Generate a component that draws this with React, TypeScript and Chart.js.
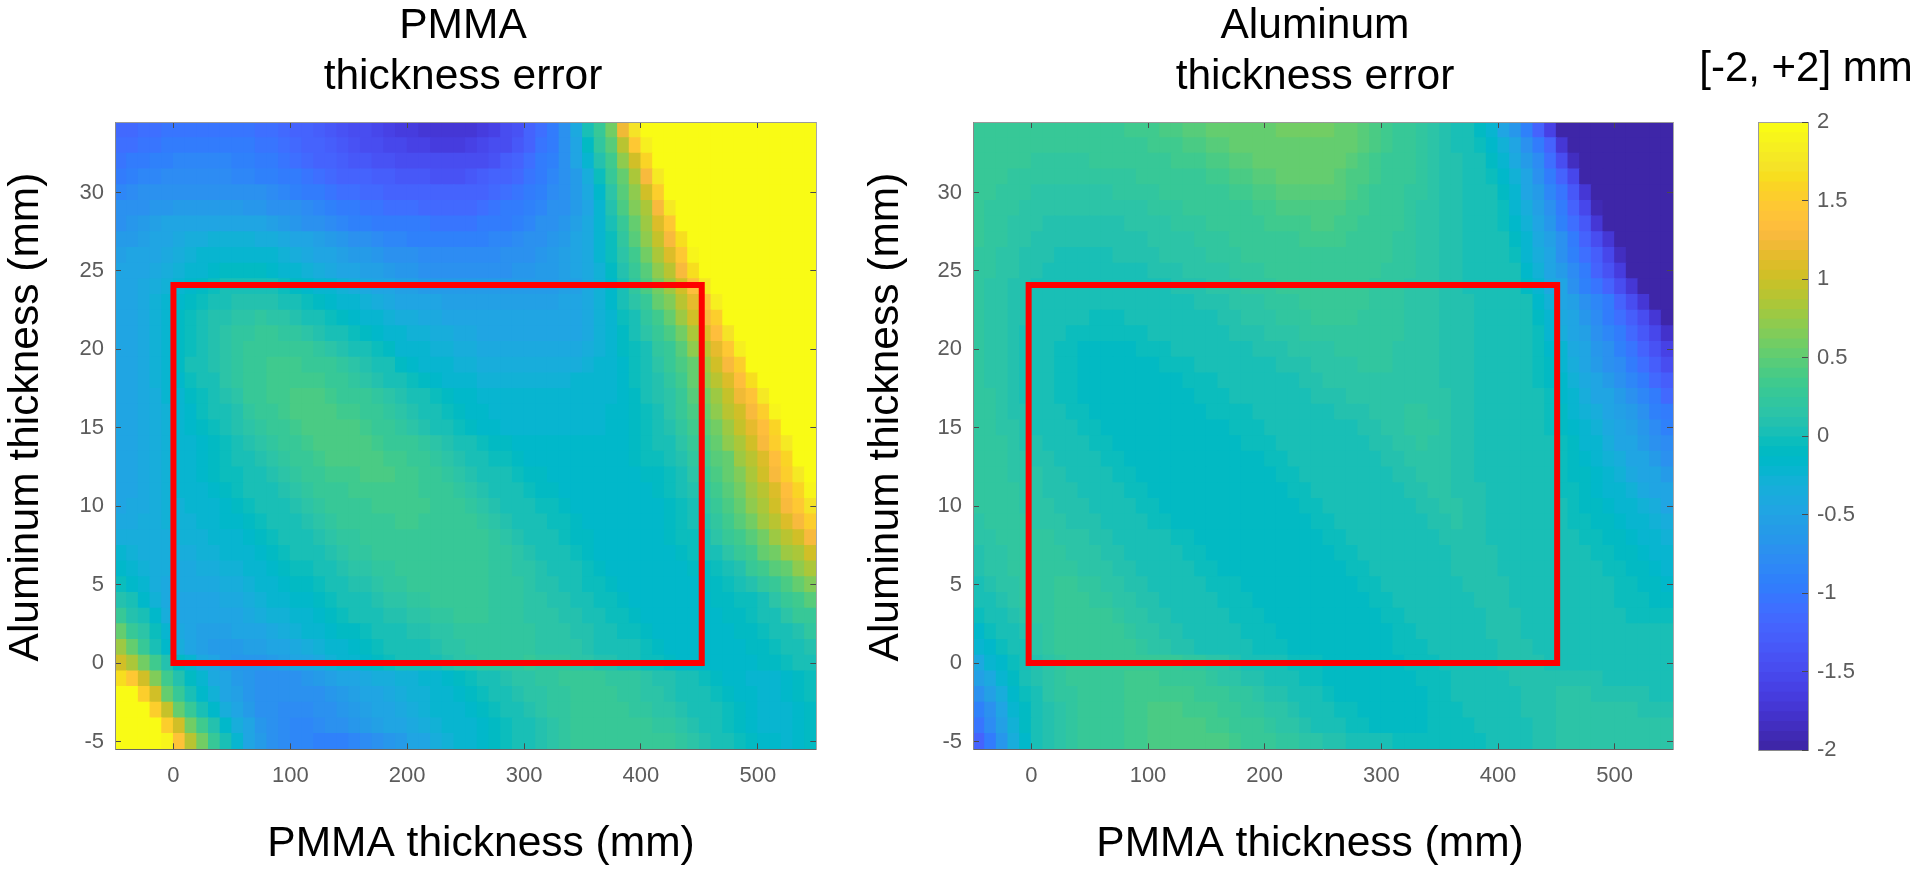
import React, { useEffect, useRef } from "react";
import Chart from "chart.js/auto";

const FONT = '"Liberation Sans", Arial, sans-serif';

const xTickValues = [0, 100, 200, 300, 400, 500];
const yTickValues = [-5, 0, 5, 10, 15, 20, 25, 30];
const colorbarTicks = [-2, -1.5, -1, -0.5, 0, 0.5, 1, 1.5, 2];

const xCenters = [
  -45,-35,-25,-15,-5,5,15,25,35,45,
  55,65,75,85,95,105,115,125,135,145,
  155,165,175,185,195,205,215,225,235,245,
  255,265,275,285,295,305,315,325,335,345,
  355,365,375,385,395,405,415,425,435,445,
  455,465,475,485,495,505,515,525,535,545,
];
const yCenters = [34,33,32,31,30,29,28,27,26,25,24,23,22,21,20,19,18,17,16,15,14,13,12,11,10,9,8,7,6,5,4,3,2,1,0,-1,-2,-3,-4,-5];

// Thickness error per cell, in hundredths of a millimetre. One row per yCenters entry, one column per xCenters entry.
const pmmaErrorCmm = [
  [-115,-115,-110,-110,-105,-105,-105,-105,-105,-105,-105,-105,-110,-110,-115,-120,-125,-130,-135,-140,-145,-150,-155,-160,-165,-165,-170,-170,-175,-175,-170,-165,-160,-150,-140,-125,-110,-95,-75,-40,5,30,60,120,170,200,200,200,200,200,200,200,200,200,200,200,200,200,200,200],
  [-110,-110,-105,-105,-100,-100,-100,-95,-95,-95,-100,-100,-105,-105,-110,-115,-120,-125,-130,-135,-140,-145,-150,-155,-155,-160,-160,-165,-165,-165,-160,-155,-150,-145,-135,-120,-105,-95,-75,-45,-10,20,45,90,145,185,200,200,200,200,200,200,200,200,200,200,200,200,200,200],
  [-105,-100,-95,-90,-90,-85,-85,-85,-85,-85,-90,-90,-95,-100,-105,-110,-115,-120,-125,-130,-135,-135,-140,-140,-145,-145,-150,-150,-150,-150,-145,-145,-140,-130,-120,-110,-100,-90,-75,-50,-20,10,35,70,105,160,200,200,200,200,200,200,200,200,200,200,200,200,200,200],
  [-95,-90,-85,-85,-80,-80,-80,-80,-80,-80,-85,-85,-90,-90,-95,-100,-105,-110,-115,-120,-120,-125,-130,-130,-135,-135,-135,-140,-140,-140,-135,-130,-125,-120,-115,-105,-95,-85,-75,-60,-35,-5,25,55,85,130,180,200,200,200,200,200,200,200,200,200,200,200,200,200],
  [-85,-80,-75,-75,-70,-70,-70,-70,-70,-70,-70,-75,-75,-80,-85,-90,-95,-100,-105,-110,-110,-115,-115,-120,-120,-125,-125,-125,-125,-125,-125,-120,-115,-110,-105,-100,-90,-80,-70,-60,-40,-15,15,45,70,100,150,200,200,200,200,200,200,200,200,200,200,200,200,200],
  [-75,-70,-70,-65,-65,-60,-60,-60,-60,-60,-60,-65,-65,-70,-70,-75,-80,-85,-90,-95,-100,-105,-105,-110,-110,-110,-115,-115,-115,-115,-115,-110,-105,-100,-95,-90,-85,-75,-70,-60,-45,-25,10,40,65,85,130,175,200,200,200,200,200,200,200,200,200,200,200,200],
  [-70,-65,-60,-55,-50,-50,-50,-45,-45,-45,-45,-50,-50,-55,-60,-65,-70,-75,-80,-85,-90,-90,-95,-95,-100,-100,-100,-105,-105,-105,-105,-100,-95,-95,-90,-85,-75,-70,-65,-55,-40,-20,0,25,55,80,110,145,195,200,200,200,200,200,200,200,200,200,200,200],
  [-60,-60,-55,-50,-45,-40,-35,-35,-30,-30,-30,-30,-35,-35,-40,-45,-50,-55,-60,-65,-70,-75,-80,-85,-85,-90,-90,-90,-90,-90,-90,-90,-85,-85,-80,-75,-70,-65,-60,-50,-40,-25,-5,20,45,70,95,130,165,200,200,200,200,200,200,200,200,200,200,200],
  [-55,-50,-50,-45,-40,-35,-30,-25,-20,-20,-20,-20,-25,-25,-30,-35,-40,-45,-50,-55,-60,-60,-65,-70,-75,-75,-80,-80,-80,-80,-80,-80,-80,-75,-75,-70,-65,-60,-55,-50,-40,-25,-5,15,35,60,85,110,145,190,200,200,200,200,200,200,200,200,200,200],
  [-50,-45,-45,-40,-35,-30,-25,-20,-15,-10,-10,-10,-10,-15,-20,-25,-30,-35,-40,-45,-50,-55,-55,-60,-65,-65,-70,-70,-70,-70,-70,-70,-70,-70,-65,-65,-60,-60,-55,-50,-40,-30,-10,10,25,45,70,90,125,165,200,200,200,200,200,200,200,200,200,200],
  [-50,-45,-40,-35,-30,-25,-15,-10,-5,0,0,5,0,0,-5,-10,-15,-20,-25,-30,-35,-40,-45,-50,-55,-55,-60,-60,-60,-60,-60,-60,-60,-60,-60,-60,-60,-60,-55,-55,-40,-30,-15,5,20,40,60,80,100,135,175,200,200,200,200,200,200,200,200,200],
  [-50,-45,-40,-30,-25,-15,-10,-5,5,5,10,10,10,10,5,0,-5,-10,-15,-20,-25,-30,-35,-40,-45,-45,-50,-50,-55,-55,-55,-55,-55,-55,-55,-55,-55,-55,-50,-50,-40,-30,-15,0,15,30,50,65,90,115,140,185,200,200,200,200,200,200,200,200],
  [-50,-45,-40,-30,-20,-10,-5,5,10,10,15,15,20,15,15,10,5,0,-5,-10,-15,-20,-25,-30,-35,-35,-40,-40,-45,-45,-50,-50,-50,-50,-50,-50,-50,-50,-50,-50,-40,-30,-20,-5,5,20,35,50,75,100,125,150,200,200,200,200,200,200,200,200],
  [-50,-45,-40,-30,-20,-10,-5,5,10,15,20,20,25,25,20,20,15,10,5,0,-5,-10,-15,-20,-25,-30,-30,-35,-35,-40,-40,-45,-45,-45,-45,-45,-45,-45,-45,-45,-40,-30,-20,-10,0,15,25,40,60,85,110,135,170,200,200,200,200,200,200,200],
  [-50,-45,-40,-30,-20,-10,-5,5,10,15,20,25,30,30,30,25,25,20,15,10,5,0,-5,-10,-20,-25,-25,-30,-30,-35,-35,-40,-40,-40,-40,-40,-40,-40,-40,-40,-35,-30,-20,-10,-5,5,20,30,45,70,90,115,145,185,200,200,200,200,200,200],
  [-50,-45,-40,-30,-20,-10,0,5,10,15,20,25,30,35,35,35,30,30,25,20,15,10,5,0,-10,-15,-20,-25,-25,-30,-30,-35,-35,-35,-35,-35,-35,-35,-35,-35,-30,-25,-20,-15,-5,5,15,25,40,55,80,100,125,150,200,200,200,200,200,200],
  [-50,-45,-40,-30,-25,-15,-5,0,5,15,20,25,30,35,35,35,35,35,30,25,20,15,10,5,0,-5,-10,-15,-20,-25,-25,-30,-30,-30,-30,-30,-30,-30,-30,-25,-25,-20,-20,-15,-5,0,10,20,35,50,70,90,110,135,165,200,200,200,200,200],
  [-50,-45,-40,-35,-25,-20,-10,-5,5,10,15,25,30,35,35,40,40,40,35,30,30,25,20,15,10,5,0,-5,-10,-15,-15,-20,-25,-25,-25,-25,-25,-25,-25,-25,-25,-20,-20,-15,-10,0,10,15,30,45,60,80,95,120,140,175,200,200,200,200],
  [-50,-45,-40,-35,-30,-20,-15,-5,0,5,10,20,25,30,35,40,40,40,40,35,35,30,25,20,15,10,5,0,-5,-10,-15,-15,-20,-20,-20,-20,-25,-25,-25,-25,-20,-20,-15,-15,-10,-5,5,15,25,40,55,70,90,105,130,150,190,200,200,200],
  [-50,-45,-40,-35,-30,-25,-15,-10,-5,0,10,15,20,25,30,35,40,40,40,40,40,35,30,25,20,15,10,5,0,-5,-10,-15,-15,-20,-20,-20,-20,-20,-20,-20,-20,-20,-15,-15,-10,-5,0,10,20,35,45,60,75,95,115,135,160,195,200,200],
  [-50,-45,-40,-35,-30,-25,-20,-15,-10,-5,0,10,15,20,25,30,35,40,40,40,40,40,35,30,30,25,20,15,10,5,0,-5,-10,-10,-15,-15,-15,-15,-15,-15,-15,-15,-15,-15,-10,-5,0,5,15,30,40,55,70,85,105,125,150,175,200,200],
  [-50,-45,-40,-35,-30,-25,-20,-15,-10,-5,0,5,10,15,20,25,30,35,40,40,40,40,40,35,35,30,25,20,15,10,5,0,-5,-5,-10,-15,-15,-15,-15,-15,-15,-15,-15,-15,-10,-5,-5,0,10,20,35,45,55,75,90,110,135,160,195,200],
  [-50,-45,-40,-35,-30,-25,-20,-15,-10,-5,-5,0,5,10,15,20,25,30,35,35,35,40,40,40,35,35,30,25,20,15,10,5,0,0,-5,-10,-10,-15,-15,-15,-15,-15,-15,-15,-15,-10,-10,-5,5,15,30,40,50,65,85,100,125,150,180,200],
  [-45,-45,-40,-35,-30,-25,-20,-20,-15,-10,-5,0,0,5,10,15,20,25,30,30,35,35,35,35,35,35,30,30,25,20,15,10,5,5,0,-5,-10,-10,-15,-15,-15,-15,-15,-15,-15,-15,-10,-5,0,10,20,35,45,60,75,90,110,135,160,190],
  [-45,-40,-40,-35,-30,-30,-25,-20,-20,-15,-10,-5,0,0,5,10,15,20,25,25,30,30,35,35,35,35,35,30,30,25,20,15,10,5,5,0,-5,-5,-10,-15,-15,-15,-15,-15,-15,-15,-15,-10,-5,5,15,30,40,55,70,85,100,125,145,170],
  [-40,-40,-35,-35,-30,-30,-30,-25,-20,-15,-15,-10,-5,0,0,5,10,15,20,25,25,30,30,30,35,35,30,30,30,25,25,20,15,10,5,5,0,-5,-5,-10,-15,-15,-15,-15,-15,-15,-15,-10,-5,0,10,20,35,45,60,75,90,110,125,150],
  [-35,-35,-35,-35,-35,-30,-30,-30,-25,-20,-20,-15,-10,-5,0,0,5,10,15,20,20,25,25,30,30,30,30,30,30,25,25,25,20,15,10,5,5,0,-5,-10,-10,-15,-15,-15,-15,-15,-15,-10,-5,-5,5,15,25,35,45,60,75,90,105,125],
  [-25,-30,-35,-35,-35,-35,-35,-30,-30,-25,-25,-20,-15,-10,-5,0,0,5,10,15,20,20,25,25,25,30,30,30,30,25,25,25,20,20,15,10,5,0,0,-5,-10,-15,-15,-15,-15,-15,-15,-15,-10,-5,0,5,15,25,35,50,60,75,85,105],
  [-15,-25,-30,-35,-35,-40,-40,-35,-35,-30,-30,-25,-20,-15,-10,-5,-5,0,5,10,15,15,20,20,25,25,25,30,30,25,25,25,20,20,15,15,10,5,0,0,-5,-10,-15,-15,-15,-15,-15,-15,-15,-10,-10,-5,0,10,25,35,45,55,70,85],
  [-5,-15,-25,-35,-40,-40,-40,-40,-40,-35,-35,-30,-25,-20,-15,-10,-10,-5,0,5,10,10,15,20,20,25,25,25,30,25,25,25,20,20,20,15,10,10,5,0,-5,-5,-10,-15,-15,-15,-15,-15,-15,-15,-10,-10,-5,0,10,20,30,40,50,65],
  [10,0,-15,-30,-40,-45,-45,-45,-45,-40,-40,-35,-30,-25,-20,-15,-15,-10,-5,0,5,5,10,15,15,20,20,25,25,25,25,25,20,20,20,15,15,10,10,5,0,-5,-5,-10,-15,-15,-15,-15,-15,-15,-15,-10,-10,-5,-5,5,15,25,35,45],
  [25,10,0,-15,-35,-45,-50,-50,-50,-45,-45,-40,-35,-30,-30,-25,-20,-15,-10,-5,0,0,5,10,10,15,15,20,20,25,25,25,20,20,20,15,15,15,10,10,5,0,-5,-5,-10,-15,-15,-15,-15,-15,-15,-15,-10,-10,-5,0,5,15,25,30],
  [50,30,15,-5,-25,-40,-50,-55,-55,-55,-50,-50,-45,-40,-35,-30,-25,-20,-15,-10,-10,-5,0,5,5,10,10,15,15,20,20,20,20,20,20,20,15,15,15,10,10,5,0,-5,-5,-10,-15,-15,-15,-15,-15,-15,-15,-10,-10,-5,0,5,10,20],
  [75,50,25,5,-15,-35,-45,-55,-60,-60,-60,-55,-55,-50,-45,-40,-35,-30,-25,-20,-15,-10,-5,0,0,5,5,10,15,15,20,20,20,20,20,20,15,15,15,15,10,5,5,0,0,-5,-10,-15,-15,-15,-15,-15,-15,-15,-10,-10,-5,0,5,10],
  [105,85,60,35,10,-10,-25,-40,-50,-60,-65,-65,-65,-60,-55,-50,-45,-40,-30,-25,-20,-15,-10,-5,0,0,5,5,10,15,15,20,20,20,20,25,20,20,20,15,15,10,10,5,0,-5,-5,-10,-15,-15,-15,-15,-15,-15,-15,-10,-10,-5,0,5],
  [165,145,105,65,35,10,-10,-25,-40,-50,-60,-65,-70,-70,-70,-70,-65,-60,-55,-50,-45,-40,-35,-35,-30,-30,-25,-20,-15,-10,-5,0,5,10,15,15,20,20,25,25,25,25,20,20,20,15,10,10,5,0,-5,-10,-15,-15,-20,-20,-20,-15,-10,-5],
  [200,195,150,100,55,30,5,-15,-30,-45,-55,-65,-70,-75,-75,-75,-75,-70,-65,-60,-55,-50,-45,-40,-35,-30,-30,-25,-20,-15,-10,-5,0,5,10,15,15,20,20,25,25,25,25,20,20,15,15,10,5,5,0,-5,-10,-15,-15,-20,-20,-15,-10,-5],
  [200,200,195,150,95,55,30,5,-15,-35,-50,-60,-70,-75,-80,-80,-80,-75,-70,-65,-60,-55,-50,-45,-40,-35,-30,-25,-25,-20,-15,-10,-5,0,5,10,15,20,20,25,25,25,25,25,20,20,15,15,10,5,5,0,-5,-10,-15,-20,-20,-20,-15,-10],
  [200,200,200,195,150,100,60,35,10,-15,-35,-50,-65,-75,-80,-85,-85,-80,-75,-70,-65,-60,-55,-50,-45,-40,-35,-30,-25,-25,-20,-15,-10,-5,0,5,10,15,20,25,25,30,30,25,25,25,20,20,15,10,5,0,-5,-10,-15,-20,-20,-20,-15,-10],
  [200,200,200,200,190,140,90,60,30,5,-25,-45,-60,-70,-80,-85,-85,-90,-90,-90,-85,-80,-75,-65,-60,-50,-45,-35,-30,-25,-20,-15,-10,-5,0,5,10,15,20,25,25,30,30,30,30,30,25,25,20,15,10,5,0,-5,-10,-15,-15,-20,-15,-10],
];

const aluminumErrorCmm = [
  [30,30,30,30,30,30,30,30,30,30,30,30,30,35,35,35,40,40,45,45,50,50,55,55,55,55,60,60,60,60,60,55,50,45,40,35,30,25,20,15,10,5,0,-10,-25,-45,-65,-90,-125,-160,-195,-200,-200,-200,-200,-200,-200,-200,-200,-200],
  [30,30,30,25,25,25,25,25,25,25,25,30,30,30,30,35,35,35,40,40,45,45,50,50,55,55,55,55,55,55,55,55,50,45,40,35,30,25,20,15,10,5,5,-5,-15,-30,-50,-70,-95,-125,-170,-200,-200,-200,-200,-200,-200,-200,-200,-200],
  [30,25,25,25,25,20,20,20,20,20,25,25,25,25,30,30,30,35,35,35,40,40,45,45,50,50,50,55,55,55,50,50,45,40,35,30,30,25,20,15,10,10,5,0,-10,-20,-40,-60,-80,-110,-145,-185,-200,-200,-200,-200,-200,-200,-200,-200],
  [25,25,25,20,20,20,20,20,20,20,20,20,20,20,25,25,25,30,30,30,35,35,40,40,45,45,50,50,50,50,50,45,40,40,35,30,25,25,20,15,10,10,5,5,-5,-15,-30,-50,-70,-95,-120,-155,-195,-200,-200,-200,-200,-200,-200,-200],
  [25,25,20,20,20,15,15,15,15,15,15,15,20,20,20,20,25,25,25,30,30,30,35,35,40,40,45,45,45,45,45,45,40,35,30,30,25,20,20,15,10,10,5,5,0,-10,-25,-45,-60,-85,-105,-135,-175,-200,-200,-200,-200,-200,-200,-200],
  [25,20,20,20,15,15,15,15,15,15,15,15,15,15,15,20,20,20,25,25,25,30,30,30,35,35,40,40,40,40,40,40,35,35,30,25,25,20,15,15,10,10,5,5,0,-5,-20,-35,-55,-75,-100,-120,-155,-190,-200,-200,-200,-200,-200,-200],
  [25,20,20,15,15,15,10,10,10,10,10,10,10,15,15,15,15,20,20,20,25,25,25,30,30,35,35,35,35,40,40,35,35,30,30,25,25,20,15,15,10,10,5,5,0,-5,-15,-30,-45,-65,-90,-110,-135,-170,-200,-200,-200,-200,-200,-200],
  [25,20,20,15,15,10,10,10,10,10,10,10,10,10,10,15,15,15,15,20,20,20,25,25,25,30,30,30,35,35,35,35,30,30,25,25,20,20,15,15,10,10,5,5,5,0,-10,-25,-40,-55,-75,-100,-120,-145,-175,-200,-200,-200,-200,-200],
  [20,20,15,15,10,10,10,5,5,5,5,5,10,10,10,10,15,15,15,15,20,20,20,25,25,25,30,30,30,30,30,30,30,25,25,25,20,20,15,15,10,10,5,5,5,0,-5,-20,-35,-50,-70,-90,-110,-130,-155,-185,-200,-200,-200,-200],
  [20,20,15,15,10,10,5,5,5,5,5,5,5,5,5,10,10,10,15,15,15,15,20,20,20,25,25,25,30,30,30,30,25,25,25,20,20,20,15,15,10,10,5,5,5,0,0,-15,-30,-45,-60,-80,-100,-120,-140,-165,-195,-200,-200,-200],
  [20,15,15,10,10,5,5,5,5,0,0,0,5,5,5,5,5,10,10,10,15,15,15,20,20,20,25,25,25,25,25,25,25,25,20,20,20,15,15,15,10,10,5,5,5,0,0,-10,-25,-40,-50,-70,-90,-105,-125,-145,-170,-200,-200,-200],
  [20,15,15,10,10,5,5,0,0,0,0,0,0,0,5,5,5,5,5,10,10,10,15,15,15,20,20,20,25,25,25,25,25,25,20,20,20,15,15,15,10,10,10,5,5,5,0,0,-15,-30,-45,-55,-70,-85,-100,-120,-145,-170,-200,-200],
  [20,15,15,10,10,5,0,0,0,0,-5,-5,-5,0,0,0,5,5,5,5,5,10,10,15,15,15,20,20,20,25,25,25,25,20,20,20,20,15,15,15,10,10,10,5,5,5,0,0,-10,-25,-40,-50,-65,-80,-95,-110,-130,-150,-175,-200],
  [20,15,15,10,5,5,0,0,-5,-5,-5,-5,-5,-5,-5,0,0,0,0,5,5,5,10,10,10,15,15,15,20,20,20,20,20,20,20,20,20,15,15,15,10,10,10,5,5,5,0,0,-5,-20,-35,-45,-55,-70,-85,-100,-115,-135,-155,-180],
  [20,15,15,10,5,5,0,-5,-5,-10,-10,-10,-10,-10,-5,-5,-5,0,0,0,5,5,5,5,10,10,10,15,15,15,15,20,20,20,20,20,15,15,15,15,10,10,10,5,5,5,0,0,-5,-15,-25,-40,-50,-65,-75,-90,-105,-120,-140,-160],
  [20,15,15,10,5,5,0,-5,-5,-10,-10,-10,-10,-10,-10,-10,-5,-5,-5,0,0,5,5,5,5,5,10,10,10,15,15,15,15,20,20,20,15,15,15,15,10,10,10,5,5,5,0,0,-5,-10,-20,-35,-45,-60,-70,-80,-95,-110,-130,-150],
  [20,15,15,10,5,5,0,-5,-5,-10,-10,-10,-10,-10,-10,-10,-10,-10,-5,-5,-5,0,0,0,5,5,5,5,10,10,15,15,15,15,15,15,15,15,15,15,10,10,10,5,5,5,5,0,-5,-10,-15,-30,-40,-50,-60,-70,-85,-100,-115,-130],
  [20,20,15,10,5,5,0,-5,-5,-10,-10,-10,-10,-10,-10,-10,-10,-10,-10,-5,-5,-5,0,0,0,5,5,5,5,10,10,10,15,15,15,15,15,15,15,15,15,10,10,5,5,5,5,0,0,-5,-15,-25,-35,-45,-50,-60,-70,-85,-100,-115],
  [20,20,15,10,10,5,0,0,-5,-5,-10,-10,-10,-10,-10,-10,-10,-10,-10,-10,-5,-5,-5,-5,0,0,0,5,5,5,5,10,10,10,15,15,15,20,20,15,15,10,10,5,5,5,5,0,0,-5,-10,-20,-30,-35,-45,-55,-60,-75,-90,-100],
  [20,20,15,15,10,5,5,0,0,-5,-5,-10,-10,-10,-10,-10,-10,-10,-10,-10,-10,-10,-5,-5,-5,0,0,0,5,5,5,5,5,10,10,15,15,20,20,20,15,10,10,5,5,5,5,5,0,-5,-10,-15,-25,-30,-40,-50,-55,-65,-80,-90],
  [20,20,20,15,10,10,5,5,0,0,-5,-5,-10,-10,-10,-10,-10,-10,-10,-10,-10,-10,-10,-5,-5,-5,0,0,0,5,5,5,5,5,10,10,15,15,20,15,15,10,10,5,5,5,5,5,0,0,-5,-10,-20,-25,-35,-45,-50,-60,-70,-80],
  [20,20,20,15,15,10,10,5,5,0,0,-5,-5,-10,-10,-10,-10,-10,-10,-10,-10,-10,-10,-10,-10,-5,-5,0,0,0,5,5,5,5,5,10,10,15,15,15,15,10,10,5,5,5,5,5,0,0,-5,-10,-15,-20,-30,-35,-45,-50,-60,-70],
  [20,20,20,15,15,15,10,10,5,5,0,0,-5,-5,-10,-10,-10,-10,-10,-10,-10,-10,-10,-10,-10,-10,-5,-5,0,0,0,5,5,5,5,5,10,10,15,15,15,10,10,5,5,5,5,5,0,0,-5,-10,-10,-15,-25,-30,-40,-45,-50,-60],
  [20,20,20,20,15,15,10,10,10,5,5,0,0,-5,-5,-10,-10,-10,-10,-10,-10,-10,-10,-10,-10,-10,-10,-5,-5,0,0,0,5,5,5,5,5,10,10,15,15,10,10,10,5,5,5,5,0,0,-5,-5,-10,-15,-20,-25,-30,-40,-45,-50],
  [20,20,20,20,15,15,15,10,10,10,5,5,0,0,-5,-5,-10,-10,-10,-10,-10,-10,-10,-10,-10,-10,-10,-10,-5,-5,0,0,0,5,5,5,5,5,10,10,15,15,10,10,5,5,5,5,0,0,0,-5,-10,-10,-15,-20,-25,-30,-35,-45],
  [15,20,20,20,20,15,15,15,10,10,10,5,5,0,0,-5,-5,-10,-10,-10,-10,-10,-10,-10,-10,-10,-10,-10,-10,-5,-5,0,0,0,5,5,5,5,5,10,10,15,10,10,5,5,5,5,0,0,0,-5,-5,-10,-10,-15,-20,-25,-30,-35],
  [15,15,20,20,20,20,20,15,15,15,10,10,5,5,5,0,0,-5,-5,-10,-10,-10,-10,-10,-10,-10,-10,-10,-10,-10,-5,-5,0,0,0,5,5,5,5,5,10,10,10,10,5,5,5,5,5,0,0,0,-5,-5,-10,-10,-15,-20,-25,-30],
  [10,15,15,20,20,20,20,20,15,15,15,10,10,5,5,5,0,0,-5,-5,-10,-10,-10,-10,-10,-10,-10,-10,-10,-10,-10,-5,-5,0,0,0,5,5,5,5,5,10,10,10,10,5,5,5,5,0,0,0,0,-5,-5,-10,-10,-15,-20,-25],
  [10,15,15,20,20,20,20,20,20,15,15,15,10,10,5,5,5,0,0,-5,-5,-10,-10,-10,-10,-10,-10,-10,-10,-10,-10,-10,-5,-5,0,0,0,5,5,5,5,10,10,10,10,5,5,5,5,0,0,0,0,0,-5,-5,-10,-10,-15,-20],
  [5,10,15,15,20,20,20,25,25,20,20,15,15,10,10,5,5,5,0,0,-5,-5,-5,-10,-10,-10,-10,-10,-10,-10,-10,-10,-10,-5,-5,0,0,0,5,5,5,5,10,10,10,10,5,5,5,0,0,0,0,0,0,-5,-5,-10,-10,-15],
  [0,5,10,15,20,20,20,25,25,25,20,20,15,15,10,10,5,5,5,0,0,-5,-5,-5,-10,-10,-10,-10,-10,-10,-10,-10,-10,-10,-5,-5,0,0,0,5,5,5,5,10,10,10,5,5,5,5,0,0,0,0,0,-5,-5,-5,-10,-10],
  [-5,0,5,10,15,20,20,25,25,25,25,25,20,15,15,10,10,5,5,5,0,0,-5,-5,-5,-10,-10,-10,-10,-10,-10,-10,-10,-10,-10,-5,-5,0,0,5,5,5,5,5,10,10,10,5,5,5,5,0,0,0,0,0,-5,-5,-5,-5],
  [-15,-5,0,5,10,15,20,25,25,30,30,25,25,20,15,15,10,10,5,5,5,0,0,-5,-5,-5,-10,-10,-10,-10,-10,-10,-10,-10,-10,-10,-5,-5,0,0,5,5,5,5,10,10,10,5,5,5,5,5,0,0,0,0,0,0,0,0],
  [-25,-15,-5,0,5,15,20,25,25,30,30,30,25,25,20,15,15,10,10,5,5,5,0,0,-5,-5,-5,-10,-10,-10,-10,-10,-10,-10,-10,-10,-5,-5,-5,0,0,5,5,5,5,10,10,10,5,5,5,5,5,5,0,0,0,0,0,0],
  [-40,-25,-15,-5,5,10,15,20,25,25,30,30,30,30,30,30,25,25,20,20,15,15,10,5,5,0,0,-5,-5,-5,-10,-10,-10,-10,-10,-10,-10,-5,-5,-5,0,0,5,5,5,10,10,10,10,5,5,5,5,5,5,5,5,5,5,5],
  [-55,-40,-25,-10,0,10,15,20,25,25,30,30,30,35,35,35,30,30,25,25,20,15,15,10,10,5,5,0,-5,-5,-10,-10,-10,-10,-10,-10,-10,-10,-5,-5,-5,0,0,5,5,5,10,10,10,10,10,10,10,10,5,5,5,5,5,5],
  [-75,-55,-35,-15,-5,5,15,20,20,25,25,30,30,35,35,35,35,35,35,30,30,25,20,20,15,10,10,5,0,0,-5,-10,-10,-10,-10,-10,-10,-10,-10,-5,-5,0,0,0,5,5,5,10,10,10,15,15,15,10,10,10,10,10,5,5],
  [-90,-70,-45,-25,-10,5,10,15,20,25,25,30,30,35,35,40,40,40,35,35,35,30,25,20,20,15,15,10,5,5,0,-5,-5,-10,-10,-10,-10,-10,-10,-5,-5,-5,0,0,0,5,5,10,10,10,15,15,15,15,15,15,15,10,10,10],
  [-105,-80,-55,-30,-10,0,10,15,20,25,25,30,30,35,35,40,40,40,40,40,35,35,30,25,25,20,15,15,10,5,5,0,-5,-5,-10,-10,-10,-10,-10,-5,-5,-5,-5,0,0,5,5,5,10,10,15,15,15,15,15,15,15,15,15,15],
  [-120,-95,-65,-35,-15,0,10,15,20,25,25,30,30,35,35,40,40,40,40,40,40,40,35,30,25,25,20,20,15,15,10,10,5,5,0,0,-5,-5,-5,-5,-5,-5,-5,-5,0,0,5,5,10,10,15,15,15,15,15,15,15,15,15,15],
];

const pmmaBoxX = [0, 452, 452, 0, 0];
const pmmaBoxY = [0, 0, 24.1, 24.1, 0];
const aluminumBoxX = [-2.3, 450.7, 450.7, -2.3, -2.3];
const aluminumBoxY = [0, 0, 24.1, 24.1, 0];

const parula = [
  [.2422,.1504,.6603],[.2504,.165,.7076],[.2578,.1818,.7511],[.2647,.1978,.7952],[.2706,.2147,.8364],[.2751,.2342,.871],[.2783,.2559,.8991],[.2803,.2782,.9221],
  [.2813,.3006,.9414],[.281,.3228,.9579],[.2795,.3447,.9717],[.276,.3667,.9829],[.2699,.3892,.9906],[.2602,.4123,.9952],[.244,.4358,.9988],[.2206,.4603,.9973],
  [.1963,.4847,.9892],[.1834,.5074,.9798],[.1786,.5289,.9682],[.1764,.5499,.952],[.1687,.5703,.9359],[.154,.5902,.9218],[.146,.6091,.9079],[.138,.6276,.8973],
  [.1248,.6459,.8883],[.1113,.6635,.8763],[.0952,.6798,.8598],[.0689,.6948,.8394],[.0297,.7082,.8163],[.0036,.7203,.7917],[.0067,.7312,.766],[.0433,.7411,.7394],
  [.0964,.75,.712],[.1408,.7584,.6842],[.1717,.767,.6554],[.1938,.7758,.6251],[.2161,.7843,.5923],[.247,.7918,.5567],[.2906,.7973,.5188],[.3406,.8008,.4789],
  [.3909,.8029,.4354],[.4456,.8024,.3909],[.5044,.7993,.348],[.5616,.7942,.3045],[.6174,.7876,.2612],[.672,.7793,.2227],[.7242,.7698,.191],[.7738,.7598,.1646],
  [.8203,.7498,.1535],[.8634,.7406,.1596],[.9035,.733,.1774],[.9393,.7288,.21],[.9728,.7298,.2394],[.9956,.7434,.2371],[.997,.7659,.2199],[.9952,.7861,.199],
  [.9892,.8086,.1706],[.9786,.8303,.1453],[.9676,.8696,.1207],[.961,.889,.1537],[.9597,.9135,.1423],[.9628,.9373,.1265],[.9691,.9606,.1064],[.9769,.9839,.0805],
];

const colorFor = (v: number) => {
  const i = Math.max(0, Math.min(parula.length - 1, Math.floor(((v + 2) / 4) * parula.length)));
  const [r, g, b] = parula[i];
  return `rgb(${Math.round(r * 255)},${Math.round(g * 255)},${Math.round(b * 255)})`;
};

const TICK_COLOR = "#4a4a4a";
const LABEL_COLOR = "#5c5c5c";

const fixedTicks = (values: number[]) => (s: any) => {
  s.ticks = values.map((value) => ({ value }));
};

function axis(position: string, min: number, max: number, values: number[], size: number, borderColor: string, padding: number | null) {
  const horizontal = position === "top" || position === "bottom";
  return {
    type: "linear",
    position,
    min,
    max,
    offset: false,
    afterBuildTicks: fixedTicks(values),
    afterFit: (s: any) => {
      if (horizontal) s.height = size;
      else s.width = size;
    },
    grid: { display: values.length > 0, drawOnChartArea: false, drawTicks: true, tickLength: -6, offset: false, color: TICK_COLOR, lineWidth: 1, z: 1 },
    border: { display: true, color: borderColor, width: 1, z: 1 },
    ticks: {
      display: padding !== null,
      padding: padding ?? 0,
      autoSkip: false,
      maxRotation: 0,
      color: LABEL_COLOR,
      font: { family: FONT, size: 22 },
      callback: (v: number) => String(v),
    },
  };
}

function captions(xText: string, xCenter: number, yText: string, yBaseline: number) {
  return {
    id: "captions",
    afterDraw(chart: any) {
      const { ctx } = chart;
      ctx.save();
      ctx.fillStyle = "#000";
      ctx.font = `42.5px ${FONT}`;
      ctx.textAlign = "center";
      ctx.textBaseline = "alphabetic";
      ctx.fillText(xText, xCenter, 857.7);
      ctx.translate(yBaseline, 419);
      ctx.rotate(-Math.PI / 2);
      ctx.fillText(yText, 0, 0);
      ctx.restore();
    },
  };
}

function panelConfig(title: string[], rows: number[][], boxX: number[], boxY: number[], plotLeft: number, plotRight: number, canvasWidth: number, xLabelCenter: number, yLabelBaseline: number) {
  const cells: any[] = [];
  yCenters.forEach((yc, r) => {
    xCenters.forEach((xc, c) => {
      cells.push({ x: xc, y: [yc - 0.5, yc + 0.5], v: rows[r][c] / 100 });
    });
  });
  return {
    type: "bar",
    data: {
      datasets: [
        {
          type: "line",
          order: 0,
          xAxisID: "x",
          yAxisID: "y",
          data: boxX.map((x, i) => ({ x, y: boxY[i] })),
          borderColor: "#ff0000",
          borderWidth: 6,
          borderJoinStyle: "miter",
          borderCapStyle: "square",
          pointRadius: 0,
          tension: 0,
          fill: false,
        },
        {
          type: "bar",
          order: 1,
          xAxisID: "x",
          yAxisID: "y",
          data: cells,
          backgroundColor: cells.map((c) => colorFor(c.v)),
          borderWidth: 0,
          barPercentage: 1,
          categoryPercentage: 1,
          grouped: false,
          inflateAmount: 0.5,
        },
      ],
    },
    options: {
      responsive: false,
      animation: false,
      events: [],
      layout: { padding: 0 },
      plugins: {
        legend: { display: false },
        tooltip: { enabled: false },
        title: {
          display: true,
          text: title,
          color: "#000",
          fullSize: true,
          font: { family: FONT, size: 42.5, weight: "normal", lineHeight: 1.2 },
          padding: { top: 3, bottom: 19 },
        },
      },
      scales: {
        x: axis("bottom", -50, 550, xTickValues, 120.7, "#666666", 19.5),
        x2: axis("top", -50, 550, xTickValues, 0, "#9a9a9a", null),
        y: axis("left", -5.5, 34.5, yTickValues, plotLeft, "#8a8a8a", 17),
        y2: axis("right", -5.5, 34.5, yTickValues, canvasWidth - plotRight, "#a8a8a8", null),
      },
    },
    plugins: [captions("PMMA thickness (mm)", xLabelCenter, "Aluminum thickness (mm)", yLabelBaseline)],
  };
}

function colorbarConfig() {
  const n = parula.length;
  const cells = parula.map((_, i) => {
    const lo = -2 + (4 * i) / n;
    const hi = -2 + (4 * (i + 1)) / n;
    return { x: 0.5, y: [lo, hi], v: (lo + hi) / 2 };
  });
  return {
    type: "bar",
    data: {
      datasets: [
        {
          xAxisID: "x",
          yAxisID: "y",
          data: cells,
          backgroundColor: cells.map((c) => colorFor(c.v)),
          borderWidth: 0,
          barPercentage: 1,
          categoryPercentage: 1,
          inflateAmount: 0.5,
        },
      ],
    },
    options: {
      responsive: false,
      animation: false,
      events: [],
      plugins: {
        legend: { display: false },
        tooltip: { enabled: false },
        title: {
          display: true,
          text: "[-2, +2] mm",
          color: "#000",
          fullSize: true,
          font: { family: FONT, size: 42, weight: "normal", lineHeight: 1.2 },
          padding: { top: 44.3, bottom: 27.3 },
        },
      },
      scales: {
        x: axis("bottom", 0, 1, [], 120, "#8a8a8a", null),
        x2: axis("top", 0, 1, [], 0, "#a0a0a0", null),
        y: axis("left", -2, 2, [], 66, "#9a9a9a", null),
        y2: axis("right", -2, 2, colorbarTicks, 112, "#9a9a9a", 15),
      },
    },
  };
}

function ChartCanvas({ config, left, top, width, height }: any) {
  const ref = useRef<HTMLCanvasElement>(null);
  useEffect(() => {
    const chart = new Chart(ref.current as any, config());
    return () => chart.destroy();
  }, []);
  return <canvas ref={ref} width={width} height={height} style={{ position: "absolute", left, top, width, height, display: "block" }} />;
}

export default function App() {
  return (
    <div style={{ position: "absolute", left: 0, top: 0, width: 1920, height: 870, overflow: "hidden", background: "#fff" }}>
      <ChartCanvas
        left={0}
        top={-2}
        width={926}
        height={872}
        config={() => panelConfig(["PMMA", "thickness error"], pmmaErrorCmm, pmmaBoxX, pmmaBoxY, 115, 816.3, 926, 481, 38)}
      />
      <ChartCanvas
        left={850}
        top={-2}
        width={930}
        height={872}
        config={() => panelConfig(["Aluminum", "thickness error"], aluminumErrorCmm, aluminumBoxX, aluminumBoxY, 123, 823, 930, 460, 48)}
      />
      <ChartCanvas left={1692} top={0} width={228} height={870} config={colorbarConfig} />
    </div>
  );
}
